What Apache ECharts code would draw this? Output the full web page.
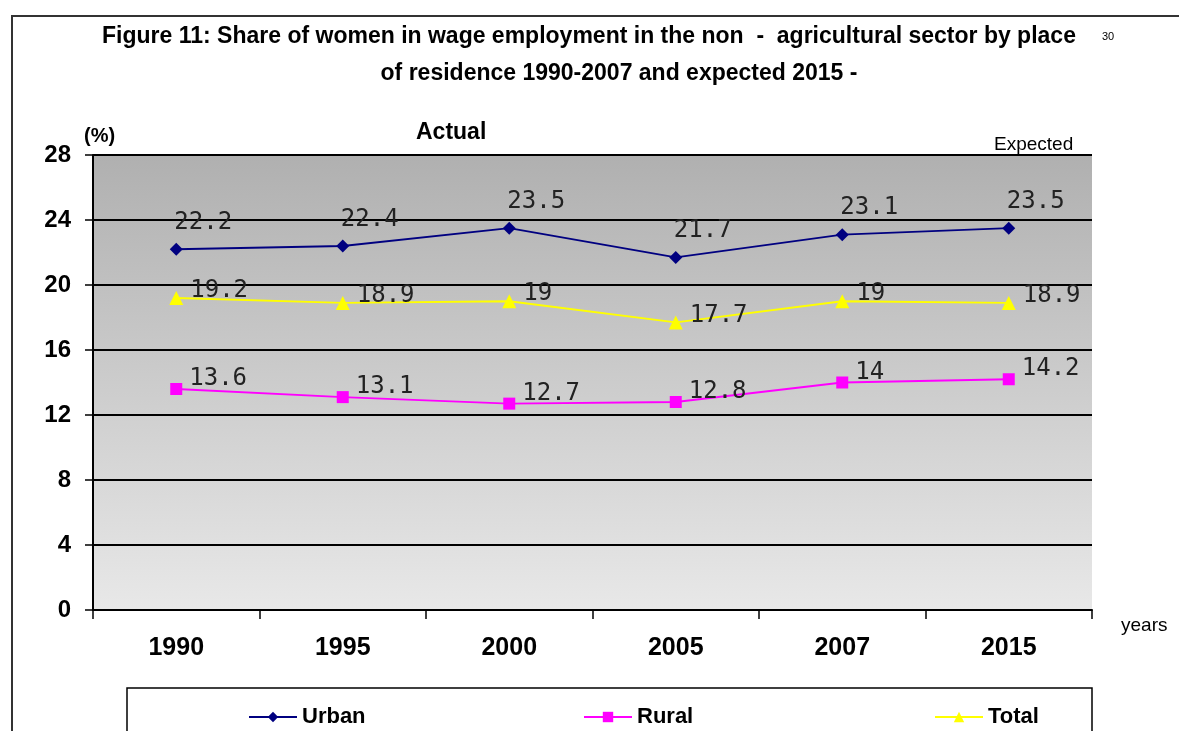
<!DOCTYPE html>
<html>
<head>
<meta charset="utf-8">
<script src="https://cdn.jsdelivr.net/npm/echarts@6/dist/echarts.min.js"></script>
<style>
html,body{margin:0;padding:0;background:#fff;}
#c{width:1179px;height:731px;}
</style>
</head>
<body>
<div id="c"></div>
<script>
var years = ['1990','1995','2000','2005','2007','2015'];
var urban = [22.2, 22.4, 23.5, 21.7, 23.1, 23.5];
var rural = [13.6, 13.1, 12.7, 12.8, 14, 14.2];
var total = [19.2, 18.9, 19, 17.7, 19, 18.9];
var yMin = 0, yMax = 28, yStep = 4;

var sans = '"Liberation Sans", Arial, sans-serif';
var mono = '"DejaVu Sans Mono", "Liberation Mono", monospace';

var chart = echarts.init(document.getElementById('c'));
var labelBase = {show:true, color:'#222', fontFamily:mono, fontSize:24};
var legendText = {fontFamily:sans, fontWeight:'bold', fontSize:22, color:'#000'};
function legendAt(name, x){
  return {left:x, top:701, itemGap:0, itemWidth:48, itemHeight:13, data:[name], textStyle:legendText};
}
chart.setOption({
  animation:false,
  backgroundColor:'#fff',
  title:[
    {text:'Figure 11: Share of women in wage employment in the non  -  agricultural sector by place', left:584, top:20, textAlign:'center',
     textStyle:{fontFamily:sans, fontWeight:'bold', fontSize:23, color:'#000'}},
    {text:'of residence 1990-2007 and expected 2015 -', left:614, top:57, textAlign:'center',
     textStyle:{fontFamily:sans, fontWeight:'bold', fontSize:23, color:'#000'}},
    {text:'30', left:1097, top:26, textStyle:{fontFamily:sans, fontSize:11, color:'#000', fontWeight:'normal'}},
    {text:'(%)', left:79, top:121, textStyle:{fontFamily:sans, fontWeight:'bold', fontSize:20, color:'#000'}},
    {text:'Actual', left:411, top:116, textStyle:{fontFamily:sans, fontWeight:'bold', fontSize:23, color:'#000'}},
    {text:'Expected', left:989, top:130, textStyle:{fontFamily:sans, fontWeight:'normal', fontSize:19, color:'#000'}},
    {text:'years', left:1116, top:611, textStyle:{fontFamily:sans, fontWeight:'normal', fontSize:19, color:'#000'}}
  ],
  graphic:[
    {type:'polyline', shape:{points:[[12,731],[12,16],[1179,16]]}, style:{stroke:'#333', lineWidth:2, fill:null}},
    {type:'rect', shape:{x:127, y:688, width:965, height:60}, style:{stroke:'#000', lineWidth:1.5, fill:'#fff'}, z:0}
  ],
  legend:[legendAt('Urban', 243), legendAt('Rural', 578), legendAt('Total', 929)],
  grid:{left:93, right:87, top:155, bottom:121, show:true, borderWidth:0,
    backgroundColor:{type:'linear', x:0, y:0, x2:0, y2:1, colorStops:[{offset:0,color:'#b0b0b0'},{offset:1,color:'#e8e8e8'}]}},
  xAxis:{type:'category', data:years, boundaryGap:true,
    axisLine:{lineStyle:{color:'#000', width:2}},
    axisTick:{show:true, length:9, inside:false, lineStyle:{color:'#000', width:1.5}},
    axisLabel:{margin:26, fontFamily:sans, fontWeight:'bold', fontSize:25, color:'#000'}},
  yAxis:{type:'value', min:yMin, max:yMax, interval:yStep,
    axisLine:{show:true, lineStyle:{color:'#000', width:2}},
    axisTick:{show:true, length:8, lineStyle:{color:'#000', width:1.5}},
    splitLine:{show:true, lineStyle:{color:'#000', width:2}},
    axisLabel:{margin:22, fontFamily:sans, fontWeight:'bold', fontSize:24, color:'#000'}},
  series:[
    {name:'Urban', type:'line', data:urban, symbol:'diamond', symbolSize:13,
     itemStyle:{color:'#000080'}, lineStyle:{color:'#000080', width:2},
     label:Object.assign({position:'top', offset:[27,-3]}, labelBase)},
    {name:'Rural', type:'line', data:rural, symbol:'rect', symbolSize:12,
     itemStyle:{color:'#ff00ff'}, lineStyle:{color:'#ff00ff', width:2},
     label:Object.assign({position:'right', offset:[2,-10]}, labelBase)},
    {name:'Total', type:'line', data:total, symbol:'triangle', symbolSize:14,
     itemStyle:{color:'#ffff00'}, lineStyle:{color:'#ffff00', width:2},
     label:Object.assign({position:'right', offset:[2,-7]}, labelBase)}
  ]
});
</script>
</body>
</html>
